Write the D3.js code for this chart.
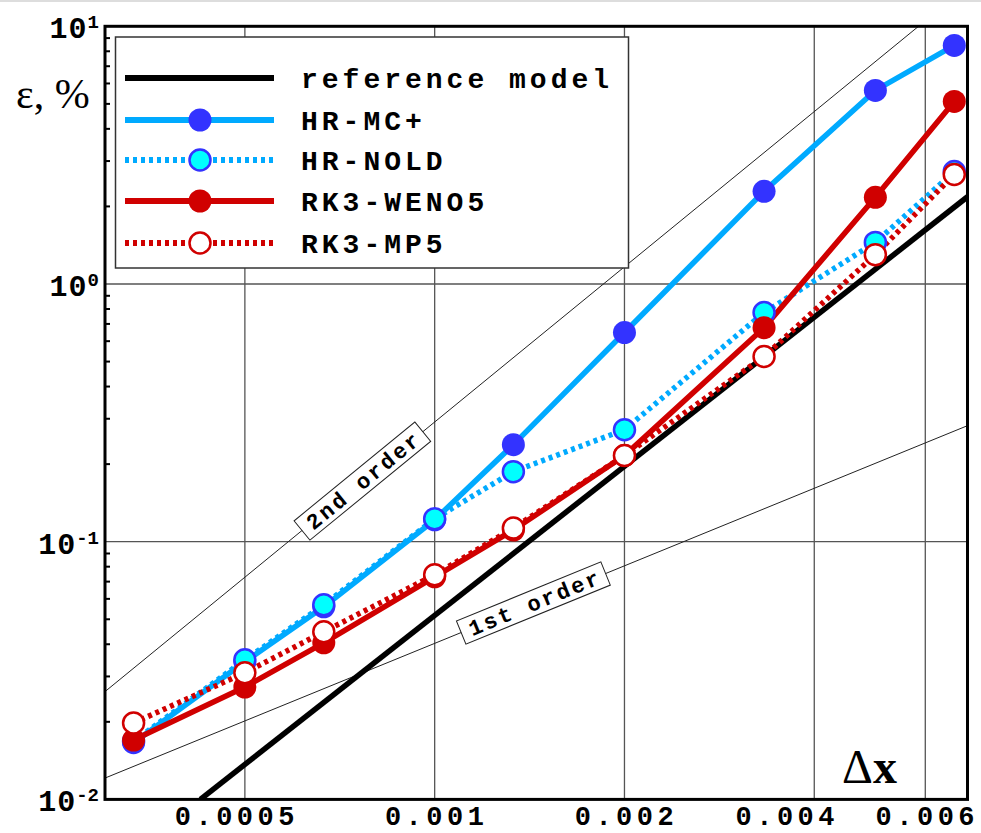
<!DOCTYPE html>
<html>
<head>
<meta charset="utf-8">
<script src="https://cdn.jsdelivr.net/npm/d3@7"></script>
<style>
  body { margin: 0; background: white; }
  text { font-family: "Liberation Mono", "Courier New", monospace; font-weight: bold; }
</style>
</head>
<body>
<div id="container"></div>
<script>
let w = 981;
let h = 833;

// grid spacing dx and errors in %
let dxValues = [0.000333, 0.0005, 0.000667, 0.001, 0.001333, 0.002, 0.00333, 0.005, 0.00667];
let hrMC = [0.0166, 0.0342, 0.0559, 0.1216, 0.238, 0.648, 2.29, 5.64, 8.43];
let hrNOLD = [0.0168, 0.0348, 0.0569, 0.1227, 0.187, 0.272, 0.775, 1.45, 2.73];
let rkWENO = [0.0170, 0.0273, 0.0405, 0.0731, 0.111, 0.216, 0.677, 2.17, 5.11];
let rkMP5 = [0.0198, 0.0310, 0.0447, 0.0744, 0.113, 0.216, 0.523, 1.30, 2.66];

let refX = [0.000425, 0.007];
let refY = [0.01, 2.18];
let order2X = [0.0003, 0.007];
let order2Y = [0.0262, 14.3];
let order1X = [0.0003, 0.007];
let order1Y = [0.0121, 0.282];

let seriesNames = ["reference model", "HR-MC+", "HR-NOLD", "RK3-WENO5", "RK3-MP5"];
let xTicks = [0.0005, 0.001, 0.002, 0.004, 0.006];
let xTickLabels = ["0.0005", "0.001", "0.002", "0.004", "0.006"];
let yTicks = [0.01, 0.1, 1, 10];
let yTickExp = ["-2", "-1", "0", "1"];

let series = [
  {name: seriesNames[1], values: hrMC, line: "#00aaff", dash: null, fill: "#3333ff", stroke: "#3333ff"},
  {name: seriesNames[2], values: hrNOLD, line: "#00aaff", dash: "4,4", fill: "#00ffff", stroke: "#3333ff"},
  {name: seriesNames[3], values: rkWENO, line: "#d00000", dash: null, fill: "#d00000", stroke: "#d00000"},
  {name: seriesNames[4], values: rkMP5, line: "#d00000", dash: "4,4", fill: "#ffffff", stroke: "#d00000"}
];

let viz = d3.select("#container").append("svg")
    .attr("width", w)
    .attr("height", h)
    .style("background-color", "white")
;

viz.append("rect").attr("x", 0).attr("y", 0).attr("width", w).attr("height", 2).attr("fill", "#dddddd");

let xScale = d3.scaleLog().domain([0.0003, 0.007]).range([105, 967.5]);
let yScale = d3.scaleLog().domain([0.01, 10]).range([799.4, 26.3]);

let pLeft = xScale.range()[0], pRight = xScale.range()[1];
let pTop = yScale.range()[1], pBottom = yScale.range()[0];

viz.append("clipPath").attr("id", "plotclip")
  .append("rect")
    .attr("x", pLeft).attr("y", pTop)
    .attr("width", pRight - pLeft).attr("height", pBottom - pTop)
;

// grid
let grid = viz.append("g").attr("class", "grid");
grid.selectAll(".vgrid").data(xTicks).enter().append("line")
    .attr("x1", d => xScale(d)).attr("x2", d => xScale(d))
    .attr("y1", pTop).attr("y2", pBottom)
    .attr("stroke", "#555").attr("stroke-width", 1.3)
;
grid.selectAll(".hgrid").data(yTicks.slice(1, 3)).enter().append("line")
    .attr("x1", pLeft).attr("x2", pRight)
    .attr("y1", d => yScale(d)).attr("y2", d => yScale(d))
    .attr("stroke", "#555").attr("stroke-width", 1.3)
;

let lineGen = d3.line().x(d => xScale(d[0])).y(d => yScale(d[1]));

let plot = viz.append("g").attr("clip-path", "url(#plotclip)");

// thin order lines
[[order2X, order2Y], [order1X, order1Y]].forEach(function(o){
  plot.append("path")
    .attr("d", lineGen(d3.zip(o[0], o[1])))
    .attr("fill", "none")
    .attr("stroke", "#222")
    .attr("stroke-width", 1)
  ;
});

// reference model
plot.append("path")
  .attr("d", lineGen(d3.zip(refX, refY)))
  .attr("fill", "none")
  .attr("stroke", "black")
  .attr("stroke-width", 5.5)
;

// order labels, sitting on their lines
function orderLabel(xs, ys, at, label){
  let x0 = xScale(xs[0]), y0 = yScale(ys[0]);
  let x1 = xScale(xs[1]), y1 = yScale(ys[1]);
  let px = xScale(at);
  let py = y0 + (px - x0) * (y1 - y0) / (x1 - x0);
  let angle = Math.atan2(y1 - y0, x1 - x0) * 180 / Math.PI;
  let g = viz.append("g").attr("transform", "translate(" + px + "," + py + ") rotate(" + angle + ")");
  g.append("rect")
    .attr("x", -78).attr("y", -12.5)
    .attr("width", 156).attr("height", 25)
    .attr("fill", "white")
    .attr("stroke", "#222")
    .attr("stroke-width", 1)
  ;
  g.append("text")
    .text(label)
    .attr("text-anchor", "middle")
    .attr("x", 1.5)
    .attr("y", 7.5)
    .style("font-size", "22px")
    .style("letter-spacing", "2.5px")
  ;
}
orderLabel(order2X, order2Y, 0.000768, "2nd order");
orderLabel(order1X, order1Y, 0.001434, "1st order");

// data series
series.forEach(function(s){
  let pts = d3.zip(dxValues, s.values);
  plot.append("path")
    .attr("d", lineGen(pts))
    .attr("fill", "none")
    .attr("stroke", s.line)
    .attr("stroke-width", 5.5)
    .attr("stroke-dasharray", s.dash)
  ;
  viz.append("g").selectAll("circle").data(pts).enter().append("circle")
    .attr("cx", d => xScale(d[0]))
    .attr("cy", d => yScale(d[1]))
    .attr("r", s.fill == s.stroke ? 11.5 : 10.5)
    .attr("fill", s.fill)
    .attr("stroke", s.stroke)
    .attr("stroke-width", s.fill == s.stroke ? 0 : 2.5)
  ;
});

// frame
viz.append("rect")
  .attr("x", pLeft).attr("y", pTop)
  .attr("width", pRight - pLeft).attr("height", pBottom - pTop)
  .attr("fill", "none")
  .attr("stroke", "black")
  .attr("stroke-width", 3)
;

// minor ticks on the left axis
let minor = [];
yTicks.slice(0, 3).forEach(function(t){
  for (let k = 2; k <= 9; k++) minor.push(t * k);
});
viz.append("g").selectAll("line").data(minor).enter().append("line")
    .attr("x1", pLeft).attr("x2", pLeft + 5)
    .attr("y1", d => yScale(d)).attr("y2", d => yScale(d))
    .attr("stroke", "black").attr("stroke-width", 2)
;

// x tick labels
let xNudge = {"0.0005": -10, "0.004": -29};
viz.append("g").selectAll("text").data(xTicks).enter().append("text")
    .text((d, i) => xTickLabels[i])
    .attr("text-anchor", "middle")
    .attr("x", (d, i) => xScale(d) + (xNudge[xTickLabels[i]] || 0) + 2)
    .attr("y", 825)
    .style("font-size", "27px")
    .style("letter-spacing", "4.5px")
;

// y tick labels
let yLab = viz.append("g").selectAll("text").data(yTicks).enter().append("text")
    .attr("text-anchor", "end")
    .attr("x", 99)
    .attr("y", d => yScale(d) + 12)
    .style("font-size", "30px")
;
yLab.append("tspan").text("10").style("letter-spacing", "1px");
yLab.append("tspan").text((d, i) => yTickExp[i])
    .attr("dy", -10)
    .style("font-size", "19px")
;

// axis titles
viz.append("text")
  .text("ε, %")
  .attr("x", 16)
  .attr("y", 108)
  .style("font-family", "'Liberation Serif', 'Times New Roman', serif")
  .style("font-weight", "normal")
  .style("font-size", "42px")
;
let dxTitle = viz.append("text")
  .attr("x", 842)
  .attr("y", 783)
  .style("font-family", "'Liberation Serif', 'Times New Roman', serif")
  .style("font-size", "48px")
;
dxTitle.append("tspan").text("Δ").style("font-weight", "normal");
dxTitle.append("tspan").text("x").style("font-weight", "bold");

// legend
let legend = viz.append("g").attr("class", "legend");
legend.append("rect")
  .attr("x", 115.5).attr("y", 37)
  .attr("width", 513).attr("height", 231)
  .attr("fill", "white")
  .attr("stroke", "#333")
  .attr("stroke-width", 1.5)
;
let legendRows = [78, 120, 160, 201, 243];
let legendStyles = [{line: "black", dash: null, fill: null}].concat(series);
let rows = legend.selectAll(".row").data(legendStyles).enter().append("g")
    .attr("class", "row")
    .attr("transform", (d, i) => "translate(0," + legendRows[i] + ")")
;
rows.append("line")
    .attr("x1", 125).attr("x2", 274)
    .attr("y1", 0).attr("y2", 0)
    .attr("stroke", d => d.line)
    .attr("stroke-width", 6)
    .attr("stroke-dasharray", d => d.dash)
;
rows.filter(d => d.fill).append("circle")
    .attr("cx", 200).attr("cy", 0)
    .attr("r", d => d.fill == d.stroke ? 11.5 : 10.5)
    .attr("fill", d => d.fill)
    .attr("stroke", d => d.stroke)
    .attr("stroke-width", d => d.fill == d.stroke ? 0 : 2.5)
;
rows.append("text")
    .text((d, i) => seriesNames[i])
    .attr("x", 301)
    .attr("y", 10)
    .style("font-size", "28px")
    .style("letter-spacing", "4px")
;
</script>
</body>
</html>
